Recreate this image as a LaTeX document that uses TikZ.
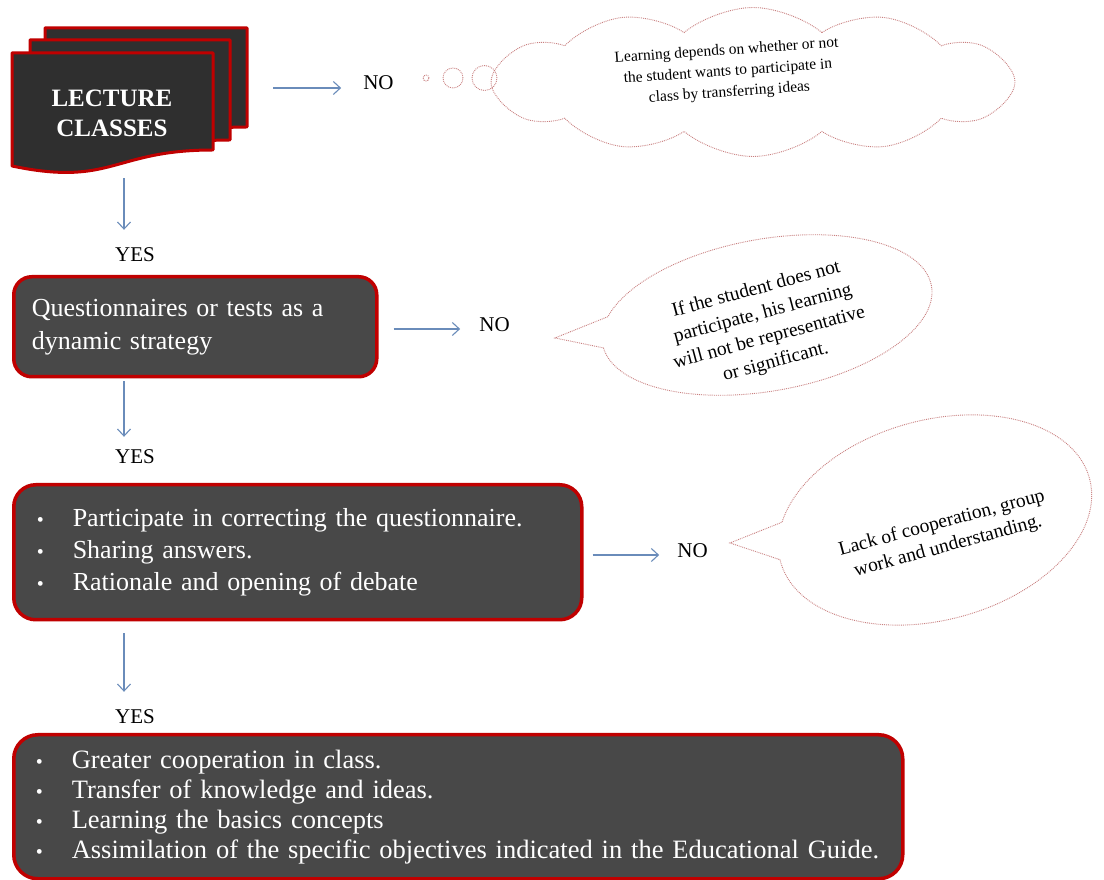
\documentclass[tikz,border=0pt]{standalone}
\usepackage{fontspec}
\setmainfont{Liberation Serif}
\usetikzlibrary{arrows.meta,shapes.symbols,calc}
\definecolor{boxred}{HTML}{C00000}
\definecolor{boxfill}{HTML}{484848}
\definecolor{docfill}{HTML}{2F2F2F}
\definecolor{arrblue}{HTML}{6A8CBA}
\definecolor{bubred}{HTML}{C98080}
\newcommand\myfs[2]{\fontsize{#1}{#2}\selectfont}
\newcommand\blt{\makebox[36pt][l]{\fontsize{20}{20}\selectfont\textbullet}}
\begin{document}
\begin{tikzpicture}[x=1pt,y=1pt,
  sheet/.style={draw=boxred, line width=3pt, fill=docfill, line join=round},
  box/.style={draw=boxred, line width=3.5pt, fill=boxfill, text=white, inner xsep=0pt, inner ysep=0pt, align=left},
  arr/.style={draw=arrblue, line width=1.1pt, -{Straight Barb[length=7pt,width=13pt]}},
  lbl/.style={font=\myfs{21}{21}, inner sep=0pt, text height=14pt, text depth=0pt},
  bub/.style={draw=bubred, line width=0.9pt, densely dotted},
  bubtxt/.style={font=\myfs{19.5}{25}, align=center, inner sep=0pt},
]
\useasboundingbox (0,0) rectangle (1104,879);
\fill[white] (0,0) rectangle (1104,879);

% ---- multi-document "LECTURE CLASSES"
\path[sheet] (45,851) -- (247,851) -- (247,752) .. controls (146,752) and (146,714.4) .. (45,736) -- cycle;
\path[sheet] (30,839) -- (230,839) -- (230,739) .. controls (130,739) and (130,701) .. (30,722.5) -- cycle;
\path[sheet] (12,826) -- (213,826) -- (213,729) .. controls (112.5,729) and (112.5,692) .. (12,713) -- cycle;
\node[minimum width=235pt, minimum height=142pt, inner sep=0pt, anchor=north west] (doc) at (12,851) {};
\node[text=white, font=\bfseries\myfs{25}{30}, align=center, inner sep=0pt] (lec) at (112,766) {LECTURE\\CLASSES};

% ---- boxes
\node[box, rounded corners=18pt, minimum width=363pt, minimum height=100pt, text width=327pt,
      font=\myfs{26}{33}, anchor=north west] (q) at (12,604)
  {Questionnaires or tests as a\\dynamic strategy};
\node[box, rounded corners=22pt, minimum width=568pt, minimum height=135pt, text width=522pt,
      font=\myfs{26}{32}, anchor=north west] (p) at (12,396)
  {\blt Participate in correcting the questionnaire.\\
   \blt Sharing answers.\\
   \blt Rationale and opening of debate};
\node[box, rounded corners=24pt, minimum width=889pt, minimum height=144pt, text width=845pt,
      font=\myfs{26.5}{30}, anchor=north west] (r) at (12,146)
  {\blt Greater cooperation in class.\\
   \blt Transfer of knowledge and ideas.\\
   \blt Learning the basics concepts\\
   \mbox{\blt Assimilation of the specific objectives indicated in the Educational Guide.}};

% ---- labels
\node[lbl] (no1) at (378.5,796) {NO};
\node[lbl] (no2) at (494.5,554) {NO};
\node[lbl] (no3) at (692.5,328) {NO};
\node[lbl] (yes1) at (135,624) {YES};
\node[lbl] (yes2) at (135,422) {YES};
\node[lbl] (yes3) at (135,162) {YES};

% ---- connectors
\coordinate (r1) at ([yshift=-5pt]no1.west);
\draw[arr, shorten <=26pt, shorten >=22pt] (doc.east |- r1) -- (r1);
\coordinate (r2) at ([yshift=-4pt]no2.west);
\draw[arr, shorten <=15pt, shorten >=19pt] (q.east |- r2) -- (r2);
\coordinate (r3) at ([yshift=-4pt]no3.west);
\draw[arr, shorten <=9pt, shorten >=18pt] (p.east |- r3) -- (r3);

\coordinate (d1) at ([xshift=-11pt]yes1.north);
\draw[arr, shorten <=8pt, shorten >=18pt] (doc.south -| d1) -- (d1);
\coordinate (d2) at ([xshift=-11pt]yes2.north);
\draw[arr, shorten <=3pt, shorten >=13pt] (q.south -| d2) -- (d2);
\coordinate (d3) at ([xshift=-11pt]yes3.north);
\draw[arr, shorten <=12pt, shorten >=18pt] (p.south -| d3) -- (d3);

% ---- thought cloud
\node[bub, circle, minimum size=6pt, inner sep=0pt] (o1) at (426,801) {};
\node[bub, circle, minimum size=20pt, inner sep=0pt] (o2) at (453,801) {};
\node[bub, circle, minimum size=25pt, inner sep=0pt] (o3) at (484.5,801) {};
\node[bub, cloud, cloud puffs=12, cloud puff arc=80, aspect=3.5,
      minimum width=524pt, minimum height=149pt, inner sep=0pt] (c1) at (753,797) {};
\node[bubtxt, font=\myfs{15.5}{21}, rotate=4] (c1t) at (728,807)
  {Learning depends on whether or not\\the student wants to participate in\\class by transferring ideas};

% ---- speech bubble 2
\draw[bub, shift={(767,564)}, rotate=10] (183:167 and 76)
  arc[start angle=183, end angle=520, x radius=167, y radius=76] -- (-212.8,14.2) -- cycle;
\node[bubtxt, rotate=15] (b2t) at (766,553)
  {If the student does not\\participate, his learning\\will not be representative\\or significant.};

% ---- speech bubble 3
\draw[bub, shift={(935,359)}, rotate=15] (179:160 and 100)
  arc[start angle=179, end angle=518, x radius=160, y radius=100] -- (-204,30.9) -- cycle;
\node[bubtxt, font=\myfs{19.5}{24}, rotate=15] (b3t) at (945,344)
  {Lack of cooperation, group\\work and understanding.};
\end{tikzpicture}
\end{document}
